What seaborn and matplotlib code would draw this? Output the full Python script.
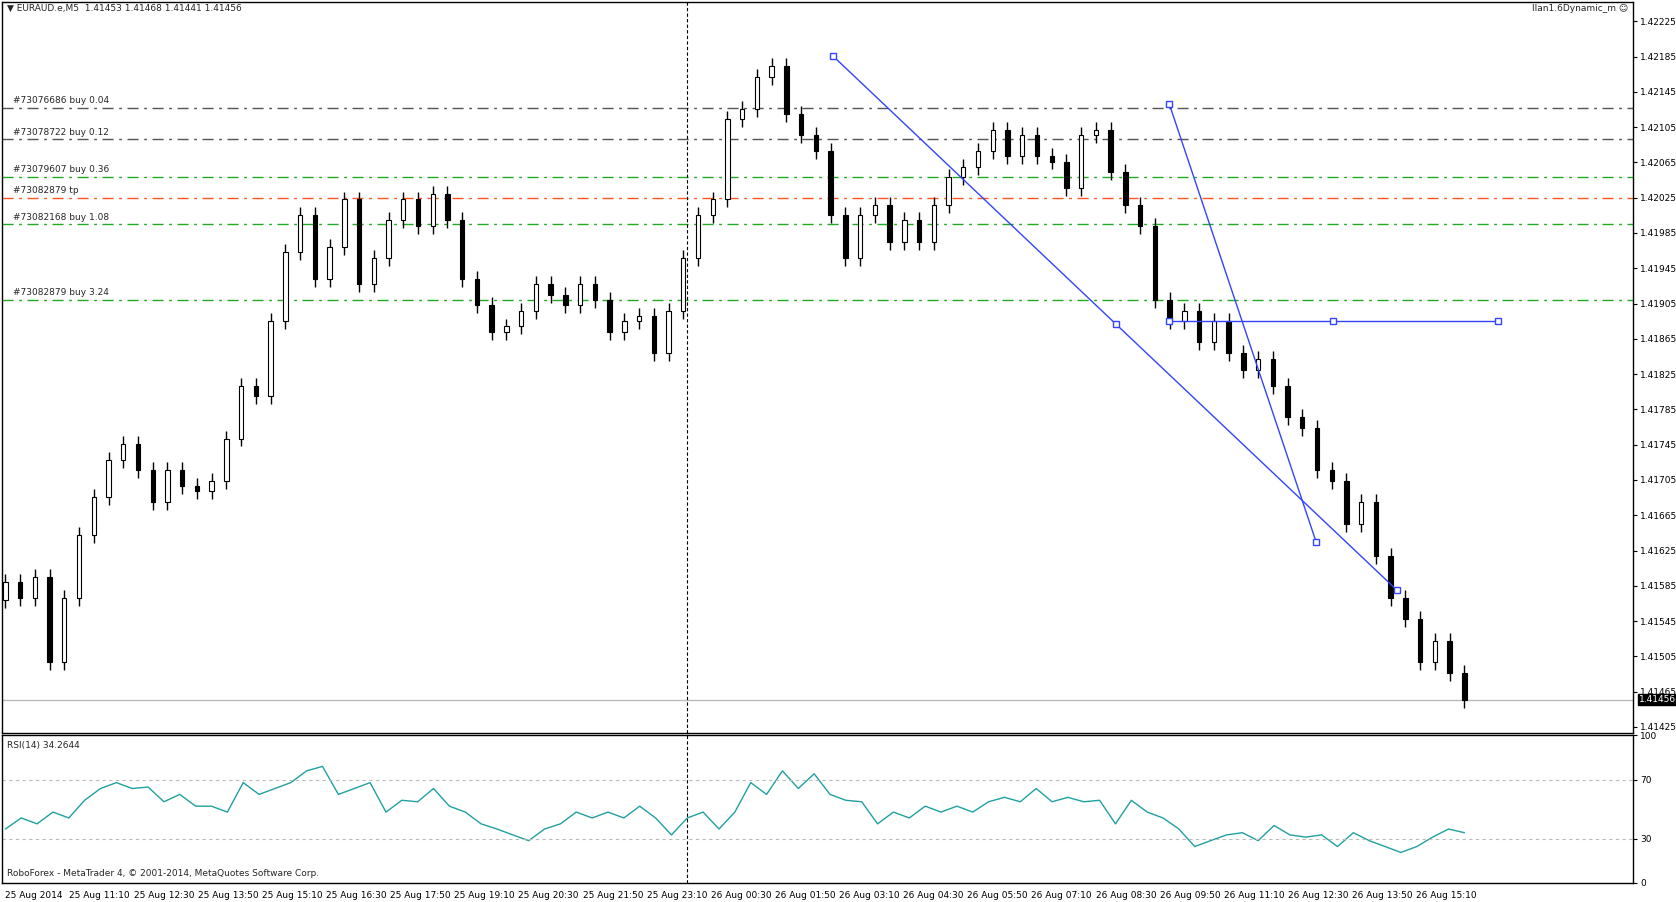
import numpy as np
import pandas as pd
import seaborn as sns
import matplotlib.pyplot as plt

closes = [1.41589, 1.41571, 1.41595, 1.41499, 1.41571, 1.41643, 1.41686, 1.41728, 1.41746, 1.41716,
          1.41680, 1.41716, 1.41698, 1.41692, 1.41704, 1.41752, 1.41812, 1.41800, 1.41885, 1.41963,
          1.42005, 1.41933, 1.41969, 1.42023, 1.41927, 1.41957, 1.42000, 1.42023, 1.41993, 1.42029,
          1.42000, 1.41933, 1.41903, 1.41873, 1.41879, 1.41897, 1.41927, 1.41915, 1.41903, 1.41927,
          1.41909, 1.41873, 1.41885, 1.41891, 1.41849, 1.41897, 1.41957, 1.42005, 1.42023, 1.42114,
          1.42126, 1.42162, 1.42174, 1.42120, 1.42096, 1.42078, 1.42005, 1.41957, 1.42005, 1.42017,
          1.41975, 1.42000, 1.41975, 1.42017, 1.42048, 1.42060, 1.42078, 1.42102, 1.42072, 1.42096,
          1.42072, 1.42066, 1.42036, 1.42096, 1.42102, 1.42054, 1.42017, 1.41993, 1.41909, 1.41885,
          1.41897, 1.41861, 1.41885, 1.41849, 1.41830, 1.41842, 1.41812, 1.41776, 1.41764, 1.41716,
          1.41704, 1.41655, 1.41680, 1.41619, 1.41571, 1.41547, 1.41499, 1.41523, 1.41486, 1.41456]

rsi = [36.5, 44, 40, 48, 44, 56, 64, 68, 64, 65, 55, 60, 52, 52, 48, 68, 60, 64, 68, 76,
       79, 60, 64, 68, 48, 56, 55, 64, 52, 48, 40, 36.5, 32.5, 28.6, 36.5, 40, 48, 44, 48, 44,
       52, 44, 32.5, 44, 48, 36.5, 48, 68, 60, 76, 64, 74, 60, 56, 55, 40, 48, 44, 52, 48,
       52, 48, 55, 58, 55, 64, 55, 58, 55, 56, 40, 56, 48, 44, 36.5, 24.6, 28.6, 32.5, 34, 28.6,
       38.9, 32.5, 31, 32.5, 24.6, 34, 28.6, 24.6, 20.6, 24.6, 31, 36.5, 34]

time_labels = ["25 Aug 2014", "25 Aug 11:10", "25 Aug 12:30", "25 Aug 13:50", "25 Aug 15:10",
               "25 Aug 16:30", "25 Aug 17:50", "25 Aug 19:10", "25 Aug 20:30", "25 Aug 21:50",
               "25 Aug 23:10", "26 Aug 00:30", "26 Aug 01:50", "26 Aug 03:10", "26 Aug 04:30",
               "26 Aug 05:50", "26 Aug 07:10", "26 Aug 08:30", "26 Aug 09:50", "26 Aug 11:10",
               "26 Aug 12:30", "26 Aug 13:50", "26 Aug 15:10"]

order_names = ["#73076686 buy 0.04", "#73078722 buy 0.12", "#73079607 buy 0.36",
               "#73082879 tp", "#73082168 buy 1.08", "#73082879 buy 3.24"]
order_prices = [1.42127, 1.42091, 1.42049, 1.42025, 1.41995, 1.41909]
order_colors = ["#555555", "#555555", "#22aa22", "#ff5522", "#22aa22", "#22aa22"]

# trendline objects (bar index, price)
trend1 = [(206.4, 1.42186), (277.0, 1.41882), (347.2, 1.41580)]
trend2 = [(290.4, 1.42131), (327.0, 1.41635)]
hline = [(290.4, 1.41885), (331.2, 1.41885), (372.3, 1.41885)]

n_bars = 364
bid = 1.41456

sns.set_style("white")
plt.rcParams['font.family'] = ['DejaVu Sans']
fig = plt.figure(figsize=(16.76, 9.02), dpi=100)
W, H = 1568, 845
ax = fig.add_axes([2 / W, 1 - 687 / H, 1526 / W, 685 / H])
ax2 = fig.add_axes([2 / W, 1 - 827 / H, 1526 / W, 138 / H])

df = pd.DataFrame({"x": np.linspace(0, n_bars, len(closes)), "close": closes})
df["open"] = df["close"].shift(1).fillna(df["close"].iloc[0] - 0.0002)
wick = 0.00009
for _, r in df.iterrows():
    lo, hi = min(r.open, r.close), max(r.open, r.close)
    ax.vlines(r.x, lo - wick, hi + wick, color="black", lw=1, zorder=3)
    up = r.close >= r.open
    ax.bar(r.x, max(hi - lo, 0.000015), bottom=lo, width=1.1,
           color="white" if up else "black", edgecolor="black", lw=0.8, zorder=4)

xmax = (1526 - 3) / 3.75
for name, p, c in zip(order_names, order_prices, order_colors):
    ax.axhline(p, color=c, lw=1, ls=(0, (8, 4, 2, 4)), zorder=1)
    ax.text(2, p + 0.00003, name, fontsize=6.5, va="bottom", ha="left")
ax.axhline(bid, color="#bbbbbb", lw=1, zorder=1)

for pts in (trend1, trend2, hline):
    xs, ys = zip(*pts)
    ax.plot(xs, ys, color="#3344ff", lw=1, zorder=5)
    ax.plot(xs, ys, ls="none", marker="s", ms=4, mfc="white", mec="#3344ff", zorder=6)

ax.set_xlim(-0.8, xmax)
ax.set_ylim(1.41425 - 6 * 1.2066e-5, 1.42225 + 18 * 1.2066e-5)
ticks = np.arange(1.41425, 1.42226, 0.0004)
ax.yaxis.tick_right()
ax.set_yticks(ticks)
ax.set_yticklabels([f"{t:.5f}" for t in ticks], fontsize=6.5)
ax.set_xticks([])
ax.text(xmax + 1.5, bid, f"{bid:.5f}", fontsize=6.5, color="white", va="center",
        ha="left", bbox=dict(fc="black", ec="black", pad=1), clip_on=False)
ax.text(0.003, 0.997, "▼ EURAUD.e,M5  1.41453 1.41468 1.41441 1.41456", transform=ax.transAxes,
        fontsize=6.5, va="top")
ax.text(0.997, 0.997, "Ilan1.6Dynamic_m ☺", transform=ax.transAxes, fontsize=6.5, va="top", ha="right")

rdf = pd.DataFrame({"x": np.linspace(0, n_bars, len(rsi)), "rsi": rsi})
sns.lineplot(data=rdf, x="x", y="rsi", ax=ax2, color="#20a0a0", lw=1)
for lvl in (30, 70):
    ax2.axhline(lvl, color="#bbbbbb", lw=0.8, ls=(0, (3, 3)))
ax2.set_xlim(-0.8, xmax)
ax2.set_ylim(0, 100)
ax2.yaxis.tick_right()
ax2.set_yticks([0, 30, 70, 100])
ax2.set_yticklabels(["0", "30", "70", "100"], fontsize=6.5)
ax2.set_xticks(np.arange(len(time_labels)) * 16)
ax2.set_xticklabels(time_labels, fontsize=6.5, ha="left")
ax2.set_xlabel("")
ax2.set_ylabel("")
ax2.text(0.003, 0.96, "RSI(14) 34.2644", transform=ax2.transAxes, fontsize=6.5, va="top")
ax2.text(0.003, 0.03, "RoboForex - MetaTrader 4, © 2001-2014, MetaQuotes Software Corp.",
         transform=ax2.transAxes, fontsize=6.5, va="bottom")

for a in (ax, ax2):
    a.axvline(170, color="black", lw=0.8, ls=(0, (3, 2)))
    a.tick_params(axis="both", length=3, pad=2, colors="black", direction="out")
    a.tick_params(axis="x", length=4)
    for s in a.spines.values():
        s.set_color("black")
        s.set_linewidth(1)

fig.savefig("out.png", dpi=100)
